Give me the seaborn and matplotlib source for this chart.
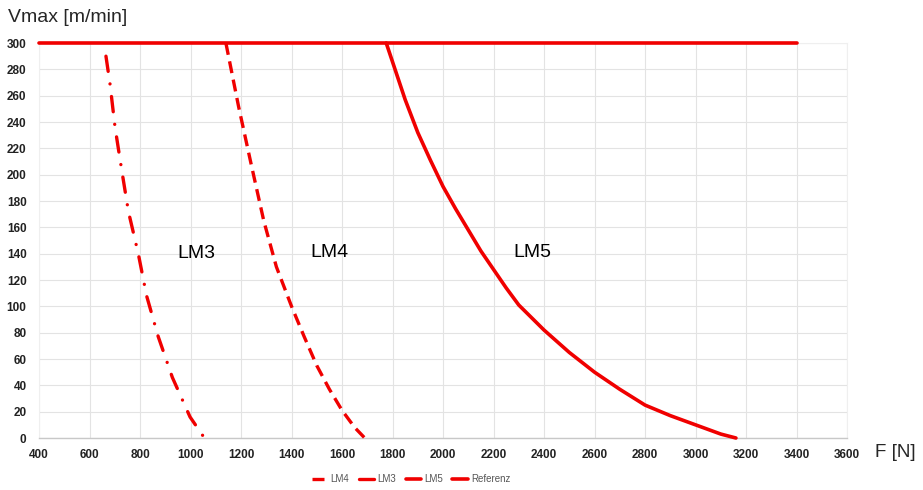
import matplotlib
matplotlib.use("Agg")
import matplotlib.pyplot as plt
import seaborn as sns
import pandas as pd

# Maximum travel speed vs. force for the linear motors
lm3_f = [665, 681, 701, 727, 754, 793, 826, 872, 928, 998, 1055]
lm3_v = [290, 269, 236, 204, 172, 140, 108, 77, 46, 16, 0]

lm4_f = [1140, 1190, 1240, 1290, 1340, 1400, 1450, 1500, 1550, 1600, 1650, 1690]
lm4_v = [300, 252, 208, 165, 130, 100, 77, 55, 37, 21, 8, 0]

lm5_f = [1775, 1850, 1900, 1950, 2000, 2050, 2100, 2150, 2200, 2250, 2300,
         2400, 2500, 2600, 2700, 2800, 2900, 3000, 3100, 3160]
lm5_v = [300, 257, 232, 211, 191, 174, 158, 142, 128, 114, 101,
         82, 65, 50, 37, 25, 17, 10, 3, 0]

ref_f = [400, 3400]
ref_v = [300, 300]

x_ticks = list(range(400, 3601, 200))
y_ticks = list(range(0, 301, 20))

RED = "#f00000"

sns.set_theme(style="white")
plt.rcParams["font.family"] = ["Liberation Sans", "DejaVu Sans"]

fig = plt.figure(figsize=(9.23, 4.90), dpi=100)
ax = fig.add_axes([0.0423, 0.1061, 0.8754, 0.8061])

def frame(f, v):
    return pd.DataFrame({"F": f, "V": v})

common = dict(ax=ax, color=RED, estimator=None, clip_on=False, zorder=3)
sns.lineplot(data=frame(lm4_f, lm4_v), x="F", y="V", lw=2.4, label="LM4",
             linestyle=(0, (3.6, 2.0)), **common)
sns.lineplot(data=frame(lm3_f, lm3_v), x="F", y="V", lw=2.4, label="LM3",
             linestyle=(0, (4.6, 3.8, 0.01, 3.8)), dash_capstyle="round",
             **common)
sns.lineplot(data=frame(lm5_f, lm5_v), x="F", y="V", lw=2.6, label="LM5",
             **common)
sns.lineplot(data=frame(ref_f, ref_v), x="F", y="V", lw=2.6, label="Referenz",
             **common)

ax.set_xlim(400, 3600)
ax.set_ylim(0, 300)
ax.set_xticks(x_ticks)
ax.set_yticks(y_ticks)
ax.set_xlabel("")
ax.set_ylabel("")
ax.grid(True, color="#e3e3e3", lw=0.8)
ax.set_axisbelow(True)
for side in ("top", "right", "left"):
    ax.spines[side].set_color("#efefef")
    ax.spines[side].set_linewidth(0.8)
ax.spines["bottom"].set_color("#c8c8c8")
ax.spines["bottom"].set_linewidth(1.0)
ax.tick_params(axis="both", length=0, labelsize=8.5, colors="#222222")
ax.tick_params(axis="x", pad=8)
ax.tick_params(axis="y", pad=9)
for lab in ax.get_xticklabels() + ax.get_yticklabels():
    lab.set_fontweight("bold")

# Curve labels
ax.text(1022, 140, "LM3", fontsize=14, color="black", ha="center", va="center")
ax.text(1549, 141, "LM4", fontsize=14, color="black", ha="center", va="center")
ax.text(2355, 141, "LM5", fontsize=14, color="black", ha="center", va="center")

# Axis titles
fig.text(8 / 923, 1 - 17 / 490, "Vmax [m/min]", fontsize=14, ha="left", va="center")
fig.text(875 / 923, 1 - 452 / 490, "F [N]", fontsize=13.5, ha="left", va="center")

leg = ax.legend(loc="lower center", bbox_to_anchor=(411 / 923, 0.0),
                bbox_transform=fig.transFigure, ncol=4, frameon=False,
                fontsize=7, handlelength=1.6, handletextpad=0.3,
                columnspacing=1.0, borderaxespad=0.2)
for t in leg.get_texts():
    t.set_color("#555555")

fig.savefig("out.png", dpi=100)
